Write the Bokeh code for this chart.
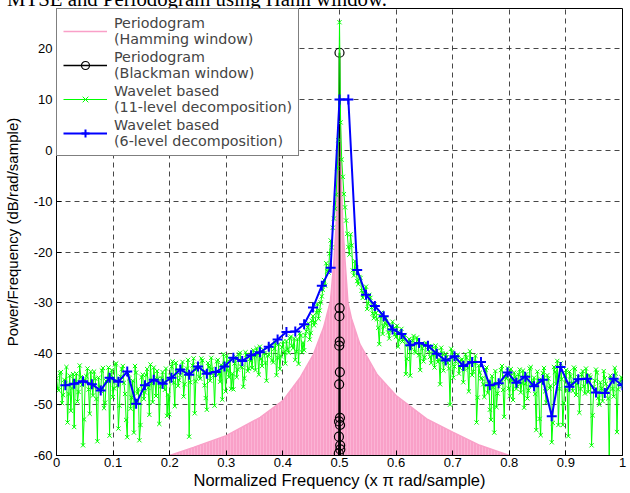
from bokeh.plotting import figure
from bokeh.models import Range1d, FixedTicker, Legend, LegendItem, Div
from bokeh.layouts import column
from bokeh.embed import file_html
from bokeh.resources import INLINE
import numpy as np

# ---------------- data ----------------
title_text = "MTSE and Periodogram using Hann window."
x_tick_values = [0, 0.1, 0.2, 0.3, 0.4, 0.5, 0.6, 0.7, 0.8, 0.9, 1]
x_tick_labels = ["0", "0.1", "0.2", "0.3", "0.4", "0.5", "0.6", "0.7", "0.8", "0.9", "1"]
y_tick_values = [-60, -50, -40, -30, -20, -10, 0, 10, 20]
y_tick_labels = ["-60", "-50", "-40", "-30", "-20", "-10", "0", "10", "20"]

# Periodogram (Hamming window): envelope of the densely oscillating spectrum
pink_freq = [0.200, 0.242, 0.300, 0.360, 0.400, 0.431, 0.454, 0.472, 0.484, 0.490,
             0.494, 0.497, 0.499, 0.500, 0.501, 0.503, 0.506, 0.510, 0.515, 0.521,
             0.536, 0.566, 0.600, 0.654, 0.700, 0.748, 0.800]
pink_db = [-60.0, -58.4, -56.1, -52.5, -49.2, -44.6, -40.1, -34.8, -29.6, -22.0,
           -15.0, -5.0, 10.0, 20.0, 10.0, -5.0, -15.0, -22.0, -30.0, -33.0,
           -38.1, -44.0, -48.2, -52.8, -55.4, -58.0, -60.0]

# Periodogram (Blackman window): only the main lobe is inside the plotted range
black_freq = [0.4986, 0.4988, 0.4990, 0.4992, 0.4994, 0.4996, 0.4998, 0.5000,
              0.5002, 0.5004, 0.5006, 0.5008, 0.5010, 0.5012, 0.5014, 0.5016]
black_db = [-63.0, -59.6, -56.3, -53.3, -46.0, -38.4, -32.6, 19.2,
            -31.0, -37.6, -43.6, -52.6, -54.0, -58.0, -58.8, -63.0]

# Wavelet based (11-level decomposition): even bins k/256 (k = 0..256)
green_db_even = [
    -44.8, -47.2, -43.6, -48.1, -45.9, -53.5, -44.3, -46.8,
    -54.4, -43.9, -47.5, -44.6, -58.0, -45.2, -42.9, -51.8,
    -46.4, -43.5, -48.9, -44.7, -47.3, -42.8, -49.6, -45.1,
    -56.1, -43.2, -46.8, -41.9, -54.7, -44.5, -42.4, -47.9,
    -56.4, -44.8, -48.6, -55.5, -43.7, -46.9, -54.0, -44.1,
    -47.6, -43.0, -52.0, -45.8, -42.7, -48.3, -44.9, -46.5,
    -43.6, -47.1, -52.2, -51.9, -42.5, -45.7, -41.8, -46.3,
    -44.2, -41.6, -46.0, -42.9, -56.3, -43.8, -40.9, -45.4,
    -42.1, -44.9, -41.3, -46.2, -51.0, -42.6, -40.8, -44.3,
    -43.7, -41.2, -45.5, -49.0, -42.0, -40.4, -44.6, -46.9,
    -47.0, -40.6, -43.1, -39.8, -42.7, -44.8, -40.2, -42.9,
    -41.4, -39.3, -43.2, -40.0, -38.6, -42.4, -39.9, -45.3,
    -40.2, -38.4, -41.7, -37.9, -40.8, -43.0, -38.7, -39.6,
    -37.5, -39.8, -36.6, -38.9, -41.2, -37.1, -36.0, -39.7,
    -39.3, -35.6, -34.0, -35.9, -32.6, -33.8, -30.2, -31.5,
    -28.7, -25.5, -22.2, -24.0, -17.7, -15.2, -11.5, -3.5,
    25.2,
    -1.8, -8.6, -13.8, -19.0, -16.5, -23.6, -21.8, -25.7,
    -24.9, -27.6, -28.2, -26.8, -30.1, -29.0, -32.1, -30.6,
    -33.2, -38.1, -31.9, -34.6, -33.0, -35.8, -35.4, -33.7,
    -36.2, -34.5, -37.3, -35.1, -36.9, -44.0, -38.2, -44.3,
    -37.4, -39.6, -36.8, -40.3, -38.1, -41.5, -37.9, -39.2,
    -40.6, -38.5, -42.7, -39.4, -41.1, -38.8, -43.3, -40.0,
    -41.8, -50.0, -39.7, -42.5, -40.4, -43.9, -41.2, -45.6,
    -40.1, -42.8, -39.5, -44.2, -41.7, -53.5, -42.3, -44.8,
    -46.0, -43.1, -47.7, -51.0, -44.4, -55.5, -50.5, -45.9,
    -43.2, -47.1, -44.6, -42.8, -48.3, -45.2, -43.7, -46.9,
    -44.1, -47.6, -43.3, -45.9, -48.8, -42.9, -46.3, -44.7,
    -55.0, -45.3, -56.0, -43.8, -47.4, -44.2, -46.8, -57.4,
    -42.6, -45.9, -54.0, -41.9, -54.0, -44.3, -47.2, -43.5,
    -45.8, -42.7, -48.1, -44.6, -46.9, -43.4, -47.8, -45.1,
    -44.2, -58.0, -46.5, -43.1, -48.7, -45.6, -49.3, -44.8,
    -47.2, -60.5, -45.0, -48.4, -43.9, -47.0, -45.5, -46.3,
]
# odd bins (2j+1)/512 (j = 0..255), lying between the even bins
green_db_odd = [
    -46.9, -43.8, -49.7, -45.1, -42.6, -47.9, -51.2, -44.0,
    -45.6, -49.4, -42.3, -46.1, -52.9, -44.4, -47.0, -43.5,
    -48.2, -44.9, -57.2, -46.6, -43.3, -50.7, -45.4, -42.7,
    -44.1, -48.5, -42.1, -46.3, -50.2, -43.0, -45.7, -53.0,
    -43.9, -50.8, -45.3, -42.4, -47.8, -57.0, -44.6, -48.9,
    -44.2, -46.7, -42.1, -49.5, -45.0, -43.4, -53.8, -44.8,
    -45.9, -42.9, -48.0, -44.3, -41.5, -50.3, -43.6, -45.2,
    -42.8, -48.4, -43.9, -41.2, -45.6, -42.3, -51.7, -43.0,
    -44.5, -40.9, -43.6, -48.7, -41.8, -45.3, -43.0, -50.2,
    -41.5, -44.0, -42.2, -40.1, -47.4, -43.3, -41.0, -43.9,
    -41.9, -44.6, -40.1, -42.5, -46.5, -39.7, -43.4, -41.0,
    -42.8, -40.3, -38.9, -44.1, -41.0, -39.2, -41.8, -40.4,
    -38.6, -41.3, -39.0, -44.2, -38.1, -40.5, -37.6, -41.9,
    -39.1, -36.9, -38.4, -37.0, -39.6, -42.0, -36.4, -37.8,
    -36.4, -34.8, -37.2, -33.5, -34.4, -31.9, -33.1, -29.9,
    -27.4, -26.6, -23.8, -20.3, -19.1, -13.4, -8.7, 2.0,
    5.5, -5.2, -11.2, -16.4, -20.5, -18.7, -24.6, -23.2,
    -26.3, -25.1, -29.0, -27.5, -31.2, -28.4, -30.9, -33.0,
    -32.0, -34.9, -32.6, -36.1, -33.9, -34.3, -37.0, -34.8,
    -35.0, -36.7, -38.6, -35.9, -37.6, -36.3, -41.0, -37.1,
    -38.7, -36.5, -39.8, -37.3, -43.2, -38.9, -40.7, -38.0,
    -39.5, -41.8, -40.2, -38.4, -41.6, -46.0, -39.9, -41.5,
    -40.7, -42.9, -39.0, -44.7, -41.5, -40.2, -42.8, -41.1,
    -43.0, -40.8, -47.4, -41.6, -43.5, -40.4, -48.6, -43.7,
    -44.9, -48.5, -42.7, -45.3, -53.0, -46.6, -43.4, -47.8,
    -45.7, -42.4, -52.4, -44.9, -46.8, -43.0, -49.1, -44.5,
    -46.4, -43.1, -45.8, -50.6, -44.0, -47.2, -42.6, -45.5,
    -47.9, -43.5, -52.8, -45.1, -42.8, -49.6, -44.9, -46.3,
    -53.6, -43.6, -41.4, -46.9, -45.0, -49.7, -43.2, -56.2,
    -44.4, -47.3, -43.0, -45.9, -51.6, -44.1, -46.4, -42.9,
    -47.5, -44.6, -52.1, -45.3, -43.7, -50.0, -46.8, -43.4,
    -45.9, -48.8, -44.3, -46.9, -42.8, -55.4, -45.7, -44.6,
]

# Wavelet based (6-level decomposition), 64 bins at k/64
blue_db = [
    -46.2, -45.9, -45.4, -46.0, -47.2, -44.7, -45.5, -43.5,
    -49.8, -46.2, -45.1, -45.9, -44.7, -43.1, -44.1, -42.5,
    -43.9, -43.6, -42.5, -40.8, -41.4, -40.3, -39.7, -38.6,
    -37.2, -35.7, -35.6, -34.2, -30.9, -26.6, -23.1, 10.0,
    10.0, -23.5, -28.4, -30.6, -32.6, -35.2, -36.1, -38.3,
    -37.9, -38.4, -40.0, -41.3, -40.5, -42.4, -41.6, -41.6,
    -46.2, -45.8, -43.7, -45.7, -44.5, -46.4, -45.1, -52.3,
    -42.6, -46.5, -45.0, -44.9, -47.6, -47.7, -44.9, -46.2,
]

# build full series
green_db = []
for i in range(len(green_db_odd)):
    green_db.append(green_db_even[i])
    green_db.append(green_db_odd[i])
green_db.append(green_db_even[-1])
green_freq = list(np.linspace(0.0, 1.0, len(green_db)))
blue_freq = list(np.linspace(1.0 / len(blue_db), 1.0, len(blue_db)))

# ---------------- figure ----------------
FONT = "Liberation Sans"
Y_MIN, Y_MAX = -60, 27.9

p = figure(width=630, height=485, output_backend="svg", toolbar_location=None,
           x_range=Range1d(0, 1), y_range=Range1d(Y_MIN, Y_MAX),
           min_border_left=56, min_border_right=8, min_border_top=0, min_border_bottom=38)
p.background_fill_color = "white"
p.border_fill_color = "white"
p.outline_line_color = "black"
p.outline_line_width = 1
p.outline_line_alpha = 1

# Pink periodogram (Hamming)
pink_area = p.varea(x=pink_freq, y1=-75, y2=pink_db, fill_color="#F9A0C8", fill_alpha=1,
                    hatch_pattern="vertical_line", hatch_color="#FFD2E6", hatch_alpha=0.7,
                    hatch_scale=3, hatch_weight=0.6)
pink_line = p.line(pink_freq, pink_db, line_color="#F9A0C8", line_width=1.5)

# Black periodogram (Blackman)
black_line = p.line(black_freq, black_db, line_color="black", line_width=1.6)
black_pts = p.scatter(black_freq, black_db, marker="circle", size=9, fill_color=None,
                      line_color="black", line_width=1.2)

# Green wavelet (11-level)
green_line = p.line(green_freq, green_db, line_color="#00FF00", line_width=1)
green_pts = p.scatter(green_freq, green_db, marker="x", size=6, line_color="#00FF00",
                      line_width=1)

# Blue wavelet (6-level)
blue_line = p.line(blue_freq, blue_db, line_color="#0000FF", line_width=2)
blue_pts = p.scatter(blue_freq, blue_db, marker="cross", size=10, line_color="#0000FF",
                     line_width=2)

# Axes
p.xaxis.ticker = FixedTicker(ticks=x_tick_values)
p.yaxis.ticker = FixedTicker(ticks=y_tick_values)
p.xaxis.major_label_overrides = {v: s for v, s in zip(x_tick_values, x_tick_labels)}
p.yaxis.major_label_overrides = {v: s for v, s in zip(y_tick_values, y_tick_labels)}
for ax in (p.xaxis, p.yaxis):
    ax.axis_line_color = "black"
    ax.major_tick_line_color = "black"
    ax.major_tick_in = 5
    ax.major_tick_out = 0
    ax.minor_tick_line_color = None
    ax.major_label_text_font = FONT
    ax.major_label_text_font_size = "13px"
    ax.major_label_text_color = "black"
    ax.axis_label_text_font = FONT
    ax.axis_label_text_font_style = "normal"
    ax.axis_label_text_color = "black"

p.xaxis.axis_label = "Normalized Frequency (x \u03c0 rad/sample)"
p.yaxis.axis_label = "Power/Frequency (dB/rad/sample)"
p.xaxis.axis_label_text_font_size = "16.5px"
p.yaxis.axis_label_text_font_size = "15px"
p.xaxis.major_label_standoff = 2
p.xaxis.axis_label_standoff = 1
p.yaxis.major_label_standoff = 4
p.yaxis.axis_label_standoff = 10

for g in (p.xgrid, p.ygrid):
    g.grid_line_color = "#333333"
    g.grid_line_dash = "5 4"
    g.grid_line_width = 1
    g.grid_line_alpha = 0.9
p.xgrid.ticker = FixedTicker(ticks=x_tick_values)
p.ygrid.ticker = FixedTicker(ticks=y_tick_values)

legend = Legend(items=[
    LegendItem(label="Periodogram\n(Hamming window)", renderers=[pink_line]),
    LegendItem(label="Periodogram\n(Blackman window)", renderers=[black_line, black_pts]),
    LegendItem(label="Wavelet based\n(11-level decomposition)", renderers=[green_line, green_pts]),
    LegendItem(label="Wavelet based\n(6-level decomposition)", renderers=[blue_line, blue_pts]),
], location="top_left")
legend.margin = 0
legend.padding = 6
legend.spacing = 2
legend.glyph_width = 44
legend.glyph_height = 20
legend.label_standoff = 7
legend.label_text_font = "DejaVu Sans"
legend.label_text_font_size = "14.3px"
legend.label_text_line_height = 1.16
legend.border_line_color = "black"
legend.border_line_width = 1
legend.background_fill_color = "white"
legend.background_fill_alpha = 1
p.add_layout(legend)

# title strip: only the lower part of the title is visible, as in the reference
title_div = Div(
    text=('<div style="position:relative; top:-11px; left:7px; white-space:nowrap; '
          'font-family:\'Liberation Serif\'; font-size:20.8px; line-height:20px; color:black;">'
          + title_text + '</div>'),
    width=630, height=8,
    styles={"overflow": "hidden", "margin": "0", "padding": "0"},
)

layout = column(title_div, p, spacing=0)

open("out.html", "w").write(file_html(layout, INLINE))
